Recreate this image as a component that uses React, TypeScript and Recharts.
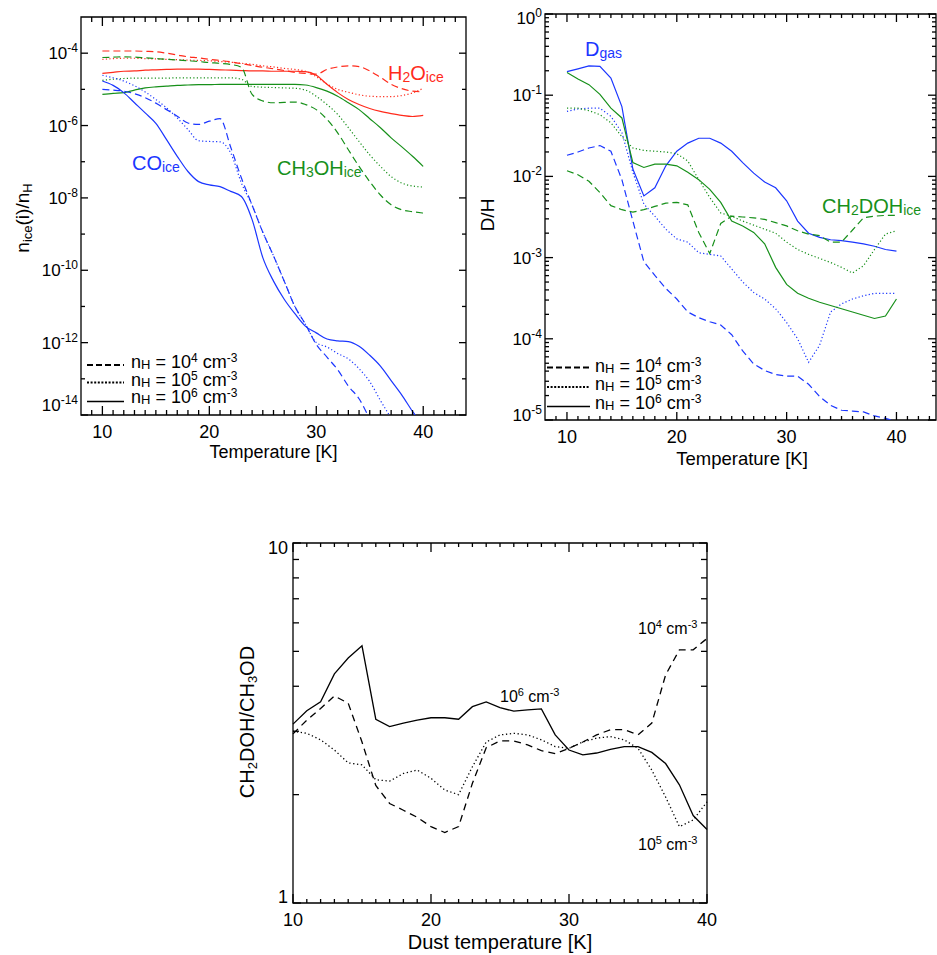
import React from "react";
import { LineChart, Line, XAxis, YAxis, ReferenceArea } from "recharts";

const FONT = '"Liberation Sans", Arial, Helvetica, sans-serif';
const RED = "#ff2b1c";
const GREEN = "#17901a";
const BLUE = "#1b36ff";
const DASH = "7 4";
const DOT = "1.2 2.3";

// dust temperature grid [K]
const temps = [
  10, 11, 12, 13, 14, 15, 16, 17, 18, 19, 20, 21, 22, 23, 24, 25, 26, 27, 28, 29, 30,
  31, 32, 33, 34, 35, 36, 37, 38, 39, 40,
];

// top left: log10 n_ice(i)/n_H
const h2oN4 = [-3.94, -3.94, -3.94, -3.94, -3.95, -3.96, -4.0, -4.05, -4.1, -4.13, -4.17, -4.2, -4.24, -4.29, -4.34, -4.39, -4.43, -4.48, -4.53, -4.56, -4.58, -4.45, -4.38, -4.35, -4.37, -4.49, -4.67, -4.86, -4.98, -5.05, -5.07];
const h2oN5 = [-4.17, -4.15, -4.14, -4.14, -4.15, -4.16, -4.17, -4.18, -4.19, -4.2, -4.21, -4.23, -4.25, -4.28, -4.31, -4.35, -4.38, -4.42, -4.45, -4.5, -4.65, -4.85, -5.0, -5.08, -5.15, -5.19, -5.2, -5.2, -5.17, -5.1, -4.97];
const h2oN6 = [-4.56, -4.53, -4.5, -4.49, -4.47, -4.46, -4.45, -4.44, -4.44, -4.44, -4.45, -4.46, -4.47, -4.48, -4.49, -4.49, -4.5, -4.5, -4.5, -4.51, -4.61, -4.86, -5.09, -5.28, -5.42, -5.53, -5.61, -5.67, -5.72, -5.75, -5.72];
const ch3ohN4 = [-4.12, -4.11, -4.1, -4.11, -4.13, -4.15, -4.17, -4.19, -4.21, -4.23, -4.26, -4.28, -4.31, -4.39, -5.14, -5.32, -5.37, -5.36, -5.35, -5.42, -5.56, -5.83, -6.2, -6.67, -7.13, -7.55, -7.92, -8.19, -8.33, -8.38, -8.42];
const ch3ohN5 = [-4.75, -4.72, -4.7, -4.69, -4.69, -4.69, -4.69, -4.68, -4.68, -4.68, -4.68, -4.68, -4.68, -4.72, -4.92, -4.94, -4.95, -4.96, -4.97, -5.02, -5.19, -5.42, -5.69, -6.06, -6.44, -6.81, -7.13, -7.41, -7.59, -7.67, -7.7];
const ch3ohN6 = [-5.14, -5.11, -5.09, -5.02, -4.96, -4.93, -4.91, -4.89, -4.88, -4.87, -4.87, -4.86, -4.86, -4.86, -4.86, -4.86, -4.86, -4.86, -4.86, -4.88, -4.95, -5.05, -5.19, -5.37, -5.56, -5.81, -6.06, -6.34, -6.59, -6.85, -7.13];
const coN4 = [-5.0, -5.02, -5.05, -5.12, -5.23, -5.38, -5.56, -5.74, -5.93, -5.97, -5.88, -5.81, -6.6, -7.45, -8.2, -8.95, -9.6, -10.3, -11.0, -11.5, -12.05, -12.4, -12.75, -13.2, -13.55, -14.1, -14.6, null, null, null, null];
const coN5 = [-4.61, -4.68, -4.77, -4.9, -5.07, -5.28, -5.51, -5.79, -6.11, -6.42, -6.44, -6.45, -6.76, -7.59, -8.2, -8.95, -9.6, -10.3, -11.0, -11.5, -12.0, -12.12, -12.3, -12.45, -12.72, -13.08, -13.6, -14.1, -14.7, null, null];
const coN6 = [-4.77, -4.89, -5.09, -5.37, -5.65, -5.94, -6.39, -6.85, -7.27, -7.55, -7.64, -7.69, -7.82, -7.96, -8.6, -9.65, -10.3, -10.8, -11.2, -11.55, -11.73, -11.9, -11.95, -11.97, -12.1, -12.35, -12.65, -13.05, -13.45, -13.9, -14.3];

// top right: log10 D/H
const dgasN4 = [-1.74, -1.7, -1.65, -1.62, -1.69, -2.04, -2.55, -3.05, -3.22, -3.38, -3.51, -3.67, -3.74, -3.79, -3.83, -3.95, -4.15, -4.31, -4.39, -4.44, -4.46, -4.46, -4.56, -4.71, -4.82, -4.88, -4.89, -4.9, -4.95, -4.98, -5.02];
const dgasN5 = [-1.2, -1.17, -1.16, -1.16, -1.26, -1.46, -1.95, -2.34, -2.49, -2.65, -2.77, -2.81, -2.94, -2.96, -2.98, -3.14, -3.3, -3.43, -3.51, -3.63, -3.8, -4.0, -4.29, -4.08, -3.67, -3.57, -3.51, -3.47, -3.44, -3.44, -3.44];
const dgasN6 = [-0.71, -0.675, -0.64, -0.646, -0.79, -1.14, -1.91, -2.24, -2.14, -1.87, -1.69, -1.59, -1.53, -1.53, -1.59, -1.69, -1.83, -1.96, -2.07, -2.14, -2.3, -2.55, -2.7, -2.75, -2.78, -2.79, -2.81, -2.83, -2.86, -2.9, -2.92];
const ch2dohN4 = [-1.93, -1.98, -2.06, -2.2, -2.36, -2.41, -2.44, -2.41, -2.37, -2.33, -2.32, -2.35, -2.69, -2.95, -2.58, -2.49, -2.5, -2.51, -2.53, -2.57, -2.61, -2.67, -2.71, -2.73, -2.81, -2.81, -2.66, -2.51, -2.49, -2.48, -2.48];
const ch2dohN5 = [-1.16, -1.16, -1.19, -1.24, -1.34, -1.51, -1.65, -1.68, -1.69, -1.7, -1.72, -1.81, -2.04, -2.26, -2.45, -2.49, -2.55, -2.6, -2.65, -2.7, -2.81, -2.9, -2.96, -3.01, -3.06, -3.12, -3.19, -3.1, -2.9, -2.71, -2.67];
const ch2dohN6 = [-0.72, -0.8, -0.87, -0.99, -1.16, -1.28, -1.83, -1.89, -1.85, -1.85, -1.87, -1.95, -2.04, -2.16, -2.32, -2.55, -2.61, -2.69, -2.83, -3.12, -3.33, -3.44, -3.5, -3.55, -3.59, -3.63, -3.67, -3.71, -3.75, -3.72, -3.51];

// bottom: CH2DOH/CH3OD ratio
const ratioN4 = [2.95, 3.22, 3.47, 3.76, 3.59, 2.8, 2.12, 1.89, 1.81, 1.73, 1.63, 1.57, 1.63, 2.15, 2.7, 2.82, 2.82, 2.75, 2.65, 2.6, 2.69, 2.8, 2.93, 3.03, 3.03, 2.93, 3.16, 4.3, 5.05, 5.05, 5.43];
const ratioN5 = [3.0, 2.96, 2.84, 2.66, 2.45, 2.42, 2.2, 2.18, 2.29, 2.34, 2.22, 2.06, 2.0, 2.39, 2.8, 2.93, 2.96, 2.93, 2.84, 2.72, 2.69, 2.8, 2.87, 2.9, 2.84, 2.69, 2.34, 1.97, 1.63, 1.7, 1.91];
const ratioN6 = [3.14, 3.42, 3.62, 4.33, 4.79, 5.18, 3.24, 3.09, 3.16, 3.22, 3.27, 3.27, 3.24, 3.51, 3.62, 3.49, 3.41, 3.44, 3.46, 2.93, 2.66, 2.58, 2.61, 2.67, 2.72, 2.72, 2.62, 2.44, 2.13, 1.75, 1.6];

const iceRows = temps.map((t, i) => ({
  t,
  h2o4: h2oN4[i], h2o5: h2oN5[i], h2o6: h2oN6[i],
  meth4: ch3ohN4[i], meth5: ch3ohN5[i], meth6: ch3ohN6[i],
  co4: coN4[i], co5: coN5[i], co6: coN6[i],
}));
const dhRows = temps.map((t, i) => ({
  t,
  d4: dgasN4[i], d5: dgasN5[i], d6: dgasN6[i],
  m4: ch2dohN4[i], m5: ch2dohN5[i], m6: ch2dohN6[i],
}));
const ratioRows = temps.map((t, i) => ({ t, r4: ratioN4[i], r5: ratioN5[i], r6: ratioN6[i] }));

const iceSeries = [
  { key: "h2o4", color: RED, dash: DASH }, { key: "h2o5", color: RED, dash: DOT }, { key: "h2o6", color: RED },
  { key: "meth4", color: GREEN, dash: DASH }, { key: "meth5", color: GREEN, dash: DOT }, { key: "meth6", color: GREEN },
  { key: "co4", color: BLUE, dash: DASH }, { key: "co5", color: BLUE, dash: DOT }, { key: "co6", color: BLUE },
];
const dhSeries = [
  { key: "d4", color: BLUE, dash: DASH }, { key: "d5", color: BLUE, dash: DOT }, { key: "d6", color: BLUE },
  { key: "m4", color: GREEN, dash: DASH }, { key: "m5", color: GREEN, dash: DOT }, { key: "m6", color: GREEN },
];
const ratioSeries = [
  { key: "r4", color: "#000", dash: "7 5" }, { key: "r5", color: "#000", dash: "1.3 2.6" }, { key: "r6", color: "#000" },
];

const tempTicks = [9, 10, 11, 12, 13, 14, 15, 16, 17, 18, 19, 20, 21, 22, 23, 24, 25, 26, 27, 28, 29, 30, 31, 32, 33, 34, 35, 36, 37, 38, 39, 40, 41, 42, 43];
const dustTicks = [10, 11, 12, 13, 14, 15, 16, 17, 18, 19, 20, 21, 22, 23, 24, 25, 26, 27, 28, 29, 30, 31, 32, 33, 34, 35, 36, 37, 38, 39, 40];
const tempLabels = [10, 20, 30, 40];
const iceTicks = [-14, -13, -12, -11, -10, -9, -8, -7, -6, -5, -4];
const dhDecades = [-5, -4, -3, -2, -1, 0];
const ratioTicks = [1, 2, 3, 4, 5, 6, 7, 8, 9, 10];

const dhTicks: number[] = [];
dhDecades.forEach((d) => {
  dhTicks.push(d);
  if (d < 0) [2, 3, 4, 5, 6, 7, 8, 9].forEach((k) => dhTicks.push(d + Math.log10(k)));
});

const AX = 1.3;

function xTick(plotH: number, majorLen: number, minorLen: number, labelDy: number) {
  return (props: any) => {
    const { x, y, payload } = props;
    const v = payload.value;
    const major = tempLabels.includes(v);
    const len = major ? majorLen : minorLen;
    const top = y - plotH;
    return (
      <g>
        <line x1={x} y1={y} x2={x} y2={y - len} stroke="#000" strokeWidth={AX} />
        <line x1={x} y1={top} x2={x} y2={top + len} stroke="#000" strokeWidth={AX} />
        {major && (
          <text x={x} y={y + labelDy} textAnchor="middle" fontSize={18} fontFamily={FONT} fill="#000">
            {v}
          </text>
        )}
      </g>
    );
  };
}

const pow10 = (v: number) => (
  <>
    <tspan>10</tspan>
    <tspan dy={-7} fontSize={12}>{String(Math.round(v))}</tspan>
  </>
);

function yTick(
  plotW: number,
  isMajor: (v: number) => boolean,
  majorLen: number,
  minorLen: number,
  label: (v: number) => React.ReactNode,
  dx: number,
  dy: (v: number) => number,
  fontSize: number
) {
  return (props: any) => {
    const { x, y, payload } = props;
    const v = payload.value;
    const len = isMajor(v) ? majorLen : minorLen;
    const right = x + plotW;
    const text = label(v);
    return (
      <g>
        <line x1={x} y1={y} x2={x + len} y2={y} stroke="#000" strokeWidth={AX} />
        <line x1={right} y1={y} x2={right - len} y2={y} stroke="#000" strokeWidth={AX} />
        {text !== null && (
          <text x={x - dx} y={y + dy(v)} textAnchor="end" fontSize={fontSize} fontFamily={FONT} fill="#000">
            {text}
          </text>
        )}
      </g>
    );
  };
}

const isEven = (v: number) => Math.round(v) % 2 === 0;
const isInt = (v: number) => Math.abs(v - Math.round(v)) < 1e-9;

const Sub = ({ children, size = 14, drop = 2 }: any) => (
  <span style={{ fontSize: size, position: "relative", top: drop }}>{children}</span>
);
const Sup = ({ children, size = 13, raise = 6 }: any) => (
  <span style={{ fontSize: size, position: "relative", top: -raise }}>{children}</span>
);

// places a line of text by its baseline
const Txt = ({ left, base, size, lh = size, color = "#000", center = false, children }: any) => (
  <div
    style={{
      position: "absolute",
      left,
      top: base - ((lh - 1.117 * size) / 2 + 0.905 * size),
      fontSize: size,
      lineHeight: `${lh}px`,
      color,
      whiteSpace: "nowrap",
      fontFamily: FONT,
      transform: center ? "translateX(-50%)" : undefined,
    }}
  >
    {children}
  </div>
);

const VTxt = ({ cx, cy, size, children }: any) => (
  <div
    style={{
      position: "absolute",
      left: cx,
      top: cy,
      fontSize: size,
      lineHeight: `${size}px`,
      whiteSpace: "nowrap",
      fontFamily: FONT,
      transform: "translate(-50%,-50%) rotate(-90deg)",
    }}
  >
    {children}
  </div>
);

const densities = ["4", "5", "6"];
const legendStyles = [
  { dash: "6 3", width: 2.2 },
  { dash: "2 1.6", width: 2.2 },
  { dash: undefined, width: 1.6 },
];

const Legend = ({ x1, x2, ys, textLeft, bases }: any) => (
  <>
    <svg style={{ position: "absolute", left: 0, top: 0, overflow: "visible" }} width={1} height={1}>
      {legendStyles.map((s, i) => (
        <line key={i} x1={x1} x2={x2} y1={ys[i]} y2={ys[i]} stroke="#000" strokeWidth={s.width} strokeDasharray={s.dash} />
      ))}
    </svg>
    {densities.map((d, i) => (
      <Txt key={d} left={textLeft} base={bases[i]} size={18} lh={13}>
        n<Sub size={13} drop={1}>H</Sub> = 10<Sup size={12} raise={6}>{d}</Sup> cm<Sup size={12} raise={6}>-3</Sup>
      </Txt>
    ))}
  </>
);

const App = () => {
  return (
    <div style={{ position: "absolute", left: 0, top: 0, width: 937, height: 955, background: "#fff", overflow: "hidden", fontFamily: FONT }}>
      <div style={{ position: "absolute", left: 0, top: 0 }}>
        <LineChart width={470} height={470} data={iceRows} margin={{ top: 17, right: 4, bottom: 54, left: 80 }}>
          <XAxis dataKey="t" type="number" domain={[8, 44]} ticks={tempTicks} interval={0} height={1} tickSize={0} tickMargin={0} tickLine={false} axisLine={false} tick={xTick(398, 9, 5, 23)} />
          <YAxis type="number" domain={[-14, -3]} allowDataOverflow ticks={iceTicks} interval={0} width={1} tickSize={0} tickMargin={0} tickLine={false} axisLine={false}
            tick={yTick(385, isEven, 7, 4, (v) => (isEven(v) ? pow10(v) : null), 3, (v) => (v === -14 ? -4 : 6), 17)} />
          {iceSeries.map((s) => (
            <Line key={s.key} dataKey={s.key} type="monotone" stroke={s.color} strokeWidth={1.2} strokeDasharray={s.dash} dot={false} activeDot={false} isAnimationActive={false} />
          ))}
          <ReferenceArea x1={8} x2={44} y1={-14} y2={-3} fill="none" stroke="#000" strokeWidth={AX} ifOverflow="visible" />
        </LineChart>
      </div>

      <div style={{ position: "absolute", left: 470, top: 0 }}>
        <LineChart width={467} height={470} data={dhRows} margin={{ top: 14, right: 1, bottom: 49, left: 74 }}>
          <XAxis dataKey="t" type="number" domain={[8, 43.6]} ticks={tempTicks} interval={0} height={1} tickSize={0} tickMargin={0} tickLine={false} axisLine={false} tick={xTick(406, 8, 4, 23)} />
          <YAxis type="number" domain={[-5, 0]} allowDataOverflow ticks={dhTicks} interval={0} width={1} tickSize={0} tickMargin={0} tickLine={false} axisLine={false}
            tick={yTick(391, isInt, 8, 4, (v) => (isInt(v) ? pow10(v) : null), 3, (v) => (v === 0 ? 10 : v === -5 ? 1 : 6), 17)} />
          {dhSeries.map((s) => (
            <Line key={s.key} dataKey={s.key} type="linear" stroke={s.color} strokeWidth={1.2} strokeDasharray={s.dash} dot={false} activeDot={false} isAnimationActive={false} />
          ))}
          <ReferenceArea x1={8} x2={43.6} y1={-5} y2={0} fill="none" stroke="#000" strokeWidth={AX} ifOverflow="visible" />
        </LineChart>
      </div>

      <div style={{ position: "absolute", left: 240, top: 520 }}>
        <LineChart width={480} height={435} data={ratioRows} margin={{ top: 23, right: 13, bottom: 51, left: 52 }}>
          <XAxis dataKey="t" type="number" domain={[10, 40]} ticks={dustTicks} interval={0} height={1} tickSize={0} tickMargin={0} tickLine={false} axisLine={false} tick={xTick(360, 9, 4, 23)} />
          <YAxis type="number" scale="log" domain={[1, 10]} allowDataOverflow ticks={ratioTicks} interval={0} width={1} tickSize={0} tickMargin={0} tickLine={false} axisLine={false}
            tick={yTick(414, (v) => v === 1 || v === 10, 8, 6, (v) => (v === 1 || v === 10 ? String(v) : null), 5, (v) => (v === 10 ? 11 : 0), 18)} />
          {ratioSeries.map((s) => (
            <Line key={s.key} dataKey={s.key} type="linear" stroke={s.color} strokeWidth={1.3} strokeDasharray={s.dash} dot={false} activeDot={false} isAnimationActive={false} />
          ))}
          <ReferenceArea x1={10} x2={40} y1={1} y2={10} fill="none" stroke="#000" strokeWidth={AX} ifOverflow="visible" />
        </LineChart>
      </div>

      {/* species labels */}
      <Txt left={388} base={80} size={20} color={RED}>H<Sub>2</Sub>O<Sub>ice</Sub></Txt>
      <Txt left={132} base={170} size={20} color={BLUE}>CO<Sub>ice</Sub></Txt>
      <Txt left={277} base={175} size={20} color={GREEN}>CH<Sub>3</Sub>OH<Sub>ice</Sub></Txt>
      <Txt left={585} base={56} size={20} color={BLUE}>D<Sub>gas</Sub></Txt>
      <Txt left={822} base={212.5} size={20} color={GREEN}>CH<Sub>2</Sub>DOH<Sub>ice</Sub></Txt>

      {/* density labels, bottom panel */}
      <Txt left={500} base={703} size={16}>10<Sup size={11} raise={6}>6</Sup> cm<Sup size={11} raise={6}>-3</Sup></Txt>
      <Txt left={638} base={635} size={16}>10<Sup size={11} raise={6}>4</Sup> cm<Sup size={11} raise={6}>-3</Sup></Txt>
      <Txt left={638} base={851} size={16}>10<Sup size={11} raise={6}>5</Sup> cm<Sup size={11} raise={6}>-3</Sup></Txt>

      <Legend x1={87} x2={124} ys={[365, 382.5, 401.5]} textLeft={131} bases={[369, 386.7, 404]} />
      <Legend x1={547} x2={590} ys={[367.5, 387, 406.5]} textLeft={595} bases={[373, 391, 410]} />

      {/* axis titles */}
      <Txt left={273.5} base={458} size={18} lh={14} center>Temperature [K]</Txt>
      <Txt left={742} base={465} size={18.5} lh={14} center>Temperature [K]</Txt>
      <Txt left={500} base={949} size={20} lh={15} center>Dust temperature [K]</Txt>
      <VTxt cx={23} cy={218} size={19}>n<Sub size={13} drop={3}>ice</Sub>(i)/n<Sub size={13} drop={3}>H</Sub></VTxt>
      <VTxt cx={487} cy={215} size={19}>D/H</VTxt>
      <VTxt cx={248} cy={722} size={20}>CH<Sub size={13} drop={3}>2</Sub>DOH/CH<Sub size={13} drop={3}>3</Sub>OD</VTxt>
    </div>
  );
};

export default App;
